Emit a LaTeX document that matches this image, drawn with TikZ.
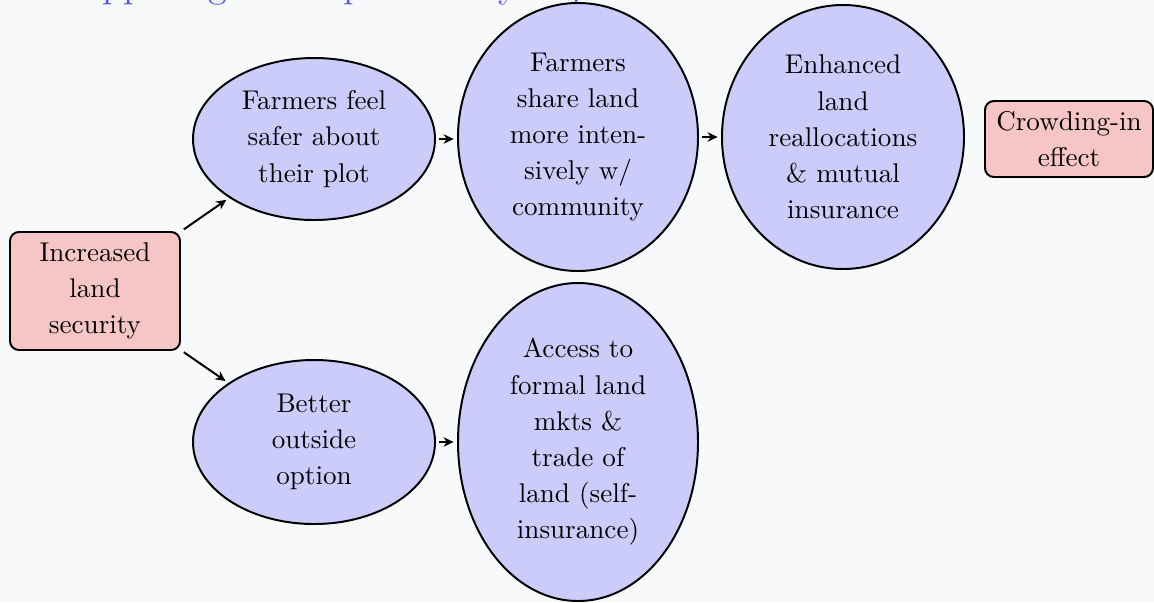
\documentclass[tikz,border=0pt]{standalone}
\usetikzlibrary{shapes.geometric,arrows.meta}

% one drawing unit = one pixel of the slide, y running downwards
\def\pxl{0.38pt}

\definecolor{slidebg}{RGB}{248,249,250}
\definecolor{bubblefill}{RGB}{204,204,250}
\definecolor{boxfill}{RGB}{246,198,198}
\definecolor{titleblue}{RGB}{88,88,238}

\tikzset{
  every node/.style={font=\fontsize{10.3}{13.75}\selectfont},
  bubble/.style={ellipse, draw=black, fill=bubblefill, line width=0.75pt,
                 inner sep=0pt, align=center},
  endbox/.style={rectangle, rounded corners=3.4pt, draw=black, fill=boxfill,
                 line width=0.75pt, inner sep=0pt, align=center},
  flow/.style={-{Stealth[length=3.8pt,width=3.6pt,inset=1.2pt]}, line width=0.75pt,
               shorten <=1.3pt, shorten >=1.3pt}
}

\begin{document}
\begin{tikzpicture}[x=\pxl, y=-\pxl]
  \useasboundingbox (0,0) rectangle (1154,602);
  \clip (0,0) rectangle (1154,602);
  \fill[slidebg] (0,0) rectangle (1154,602);

  % frame title, mostly above the visible area
  \node[anchor=base west, inner sep=0pt, text=titleblue,
        font=\fontsize{14.4}{17}\selectfont] (title) at (73,-2.5)
        {Opposing forces potentially important};

  % starting point
  \node[endbox, minimum width=170*\pxl, minimum height=118*\pxl] (security)
        at (95,291) {Increased\\land\\security};

  % upper channel
  \node[bubble, minimum width=242*\pxl, minimum height=162*\pxl] (safer)
        at (314,139) {Farmers feel\\safer about\\their plot};
  \node[bubble, minimum width=240*\pxl, minimum height=268*\pxl] (share)
        at (578,137) {Farmers\\share land\\more inten-\\sively w/\\community};
  \node[bubble, minimum width=242*\pxl, minimum height=264*\pxl] (realloc)
        at (843,137) {Enhanced\\land\\reallocations\\\& mutual\\insurance};
  \node[endbox, minimum width=168*\pxl, minimum height=76*\pxl] (crowd)
        at (1069,139) {Crowding-in\\effect};

  % lower channel
  \node[bubble, minimum width=242*\pxl, minimum height=164*\pxl] (outside)
        at (314,442) {Better\\outside\\option};
  \node[bubble, minimum width=240*\pxl, minimum height=318*\pxl] (market)
        at (578,442) {Access to\\formal land\\mkts \&\\trade of\\land (self-\\insurance)};

  % connectors
  \draw[flow] (security) -- (safer);
  \draw[flow] (security) -- (outside);
  \draw[flow] (safer.east) -- (safer.east -| share.west);
  \draw[flow] (share.east) -- (share.east -| realloc.west);
  \draw[flow] (outside.east) -- (outside.east -| market.west);
\end{tikzpicture}
\end{document}
